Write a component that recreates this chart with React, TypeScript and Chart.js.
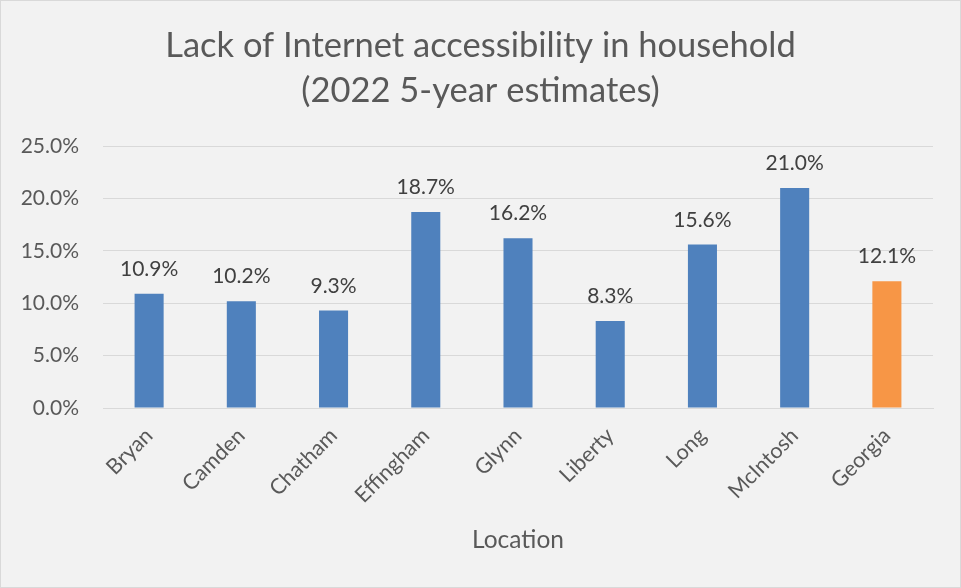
import React, { useEffect, useRef } from "react";
import { Chart, registerables } from "chart.js";

Chart.register(...registerables);

const categories = ["Bryan", "Camden", "Chatham", "Effingham", "Glynn", "Liberty", "Long", "McIntosh", "Georgia"];
const values = [10.9, 10.2, 9.3, 18.7, 16.2, 8.3, 15.6, 21.0, 12.1];
const barColors = ["#4F81BD", "#4F81BD", "#4F81BD", "#4F81BD", "#4F81BD", "#4F81BD", "#4F81BD", "#4F81BD", "#F79646"];
const titleLines = ["Lack of Internet accessibility in household", "(2022 5-year estimates)"];
const xTitle = "Location";
const yMax = 25;
const yStep = 5;

const FONT = "Lato";

const bgPlugin = {
  id: "bgPlugin",
  beforeDraw(chart: any) {
    const { ctx, width, height } = chart;
    ctx.save();
    ctx.fillStyle = "#F2F2F2";
    ctx.fillRect(0, 0, width, height);
    ctx.strokeStyle = "#D9D9D9";
    ctx.lineWidth = 1;
    ctx.strokeRect(0.5, 0.5, width - 1, height - 1);
    ctx.restore();
  },
};

const labelPlugin = {
  id: "labelPlugin",
  afterDatasetsDraw(chart: any) {
    const { ctx } = chart;
    const meta = chart.getDatasetMeta(0);
    ctx.save();
    ctx.font = `21px ${FONT}`;
    ctx.fillStyle = "#404040";
    ctx.textAlign = "center";
    ctx.textBaseline = "alphabetic";
    meta.data.forEach((bar: any, i: number) => {
      const v = chart.data.datasets[0].data[i];
      ctx.fillText(v.toFixed(1) + "%", bar.x, bar.y - 18);
    });
    ctx.restore();
  },
};

export default function App() {
  const ref = useRef<HTMLCanvasElement>(null);
  useEffect(() => {
    if (!ref.current) return;
    const chart = new Chart(ref.current, {
      type: "bar",
      data: {
        labels: categories,
        datasets: [
          {
            data: values,
            backgroundColor: barColors,
            categoryPercentage: 1,
            barPercentage: 0.315,
          },
        ],
      },
      plugins: [bgPlugin, labelPlugin],
      options: {
        responsive: false,
        animation: false,
        layout: { padding: { left: 0, right: 0, top: 0, bottom: 0 } },
        plugins: {
          legend: { display: false },
          tooltip: { enabled: false },
          title: {
            display: true,
            text: titleLines,
            color: "#595959",
            font: { family: FONT, size: 34.5, weight: "normal", lineHeight: 1.32 },
            padding: { top: 23, bottom: 32 },
          },
        },
        scales: {
          x: {
            grid: { display: false },
            border: { display: true, color: "#D9D9D9" },
            ticks: {
              color: "#595959",
              font: { family: FONT, size: 21.5 },
              maxRotation: 45,
              minRotation: 45,
              padding: 7,
            },
            title: {
              display: true,
              text: xTitle,
              color: "#595959",
              font: { family: FONT, size: 24.5 },
              padding: { top: 0, bottom: 33 },
            },
            afterFit(scale: any) {
              scale.height = 180;
            },
          },
          y: {
            min: 0,
            max: yMax,
            ticks: {
              stepSize: yStep,
              color: "#595959",
              font: { family: FONT, size: 21 },
              padding: 24,
              callback: (v: any) => Number(v).toFixed(1) + "%",
            },
            grid: { color: "#D9D9D9", drawTicks: false },
            border: { display: false },
            afterFit(scale: any) {
              scale.width = 103;
            },
          },
          yRightSpace: {
            position: "right",
            display: true,
            grid: { display: false },
            border: { display: false },
            ticks: { display: false },
            afterFit(scale: any) {
              scale.width = 28;
            },
          },
        },
      },
    });
    return () => chart.destroy();
  }, []);
  return (
    <div style={{ position: "absolute", left: 0, top: 0, width: 961, height: 588 }}>
      <canvas ref={ref} width={961} height={588} />
    </div>
  );
}
